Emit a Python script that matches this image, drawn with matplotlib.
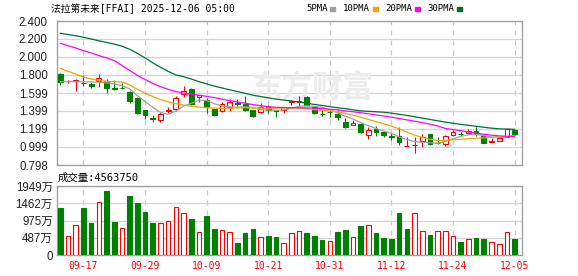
import matplotlib.pyplot as plt
from matplotlib.patches import Rectangle
import numpy as np

# trading days shown (MM-DD)
dates = ["09-12", "09-15", "09-16", "09-17", "09-18", "09-19", "09-22", "09-23", "09-24", "09-25",
         "09-26", "09-29", "09-30", "10-01", "10-02", "10-03", "10-06", "10-07", "10-08", "10-09",
         "10-10", "10-13", "10-14", "10-15", "10-16", "10-17", "10-20", "10-21", "10-22", "10-23",
         "10-24", "10-27", "10-28", "10-29", "10-30", "10-31", "11-03", "11-04", "11-05", "11-06",
         "11-07", "11-10", "11-11", "11-12", "11-13", "11-14", "11-17", "11-18", "11-19", "11-20",
         "11-21", "11-24", "11-25", "11-26", "11-28", "12-01", "12-02", "12-03", "12-04", "12-05"]

opens = [1.81, 1.728, 1.735, 1.715, 1.70, 1.733, 1.736, 1.65, 1.66, 1.615,
         1.54, 1.41, 1.32, 1.296, 1.40, 1.42, 1.585, 1.64, 1.56, 1.52,
         1.42, 1.40, 1.447, 1.49, 1.475, 1.41, 1.385, 1.447, 1.405, 1.405,
         1.495, 1.50, 1.558, 1.44, 1.365, 1.39, 1.365, 1.28, 1.245, 1.25,
         1.135, 1.195, 1.16, 1.125, 1.12, 1.005, 1.018, 1.07, 1.143, 1.045,
         1.03, 1.13, 1.145, 1.152, 1.176, 1.12, 1.055, 1.07, 1.113, 1.187]
closes = [1.725, 1.738, 1.745, 1.705, 1.68, 1.762, 1.66, 1.64, 1.655, 1.515,
          1.375, 1.35, 1.315, 1.362, 1.415, 1.547, 1.62, 1.475, 1.577, 1.44,
          1.35, 1.477, 1.50, 1.48, 1.41, 1.345, 1.44, 1.41, 1.40, 1.44,
          1.505, 1.51, 1.46, 1.375, 1.36, 1.385, 1.33, 1.225, 1.27, 1.16,
          1.19, 1.165, 1.13, 1.115, 1.058, 1.012, 1.025, 1.105, 1.03, 1.04,
          1.12, 1.17, 1.14, 1.176, 1.143, 1.046, 1.06, 1.10, 1.195, 1.14]
highs = [1.825, 1.745, 1.75, 1.80, 1.72, 1.807, 1.75, 1.745, 1.705, 1.62,
         1.555, 1.415, 1.355, 1.39, 1.44, 1.566, 1.677, 1.65, 1.577, 1.54,
         1.425, 1.50, 1.53, 1.53, 1.566, 1.415, 1.49, 1.466, 1.41, 1.445,
         1.52, 1.566, 1.565, 1.455, 1.41, 1.41, 1.41, 1.32, 1.30, 1.26,
         1.225, 1.23, 1.165, 1.15, 1.218, 1.11, 1.105, 1.14, 1.145, 1.105,
         1.132, 1.19, 1.16, 1.20, 1.225, 1.125, 1.095, 1.105, 1.20, 1.19]
lows = [1.69, 1.715, 1.625, 1.68, 1.66, 1.67, 1.596, 1.63, 1.645, 1.485,
        1.365, 1.31, 1.28, 1.273, 1.375, 1.40, 1.55, 1.465, 1.50, 1.38,
        1.345, 1.39, 1.40, 1.455, 1.40, 1.335, 1.38, 1.373, 1.335, 1.375,
        1.466, 1.455, 1.455, 1.36, 1.343, 1.335, 1.30, 1.21, 1.243, 1.15,
        1.085, 1.12, 1.115, 1.076, 1.02, 1.005, 0.935, 1.0, 1.02, 1.032,
        1.013, 1.12, 1.12, 1.143, 1.12, 1.04, 1.05, 1.06, 1.11, 1.135]

# volume in 万 shares
volume = [1337, 537, 847, 1337, 913, 1497, 1817, 942, 763, 1676,
          1478, 1224, 913, 913, 960, 1356, 1196, 1026, 650, 1111,
          744, 706, 650, 348, 631, 744, 508, 537, 508, 339,
          612, 668, 621, 537, 424, 395, 650, 706, 499, 819,
          838, 621, 480, 452, 1186, 734, 1177, 668, 565, 668,
          668, 527, 367, 443, 480, 452, 358, 311, 650, 456.375]

# moving averages
ma5 = [1.725, 1.725, 1.725, 1.725, 1.722, 1.72, 1.712, 1.70, 1.68, 1.645,
       1.57, 1.505, 1.44, 1.383, 1.363, 1.398, 1.452, 1.484, 1.52, 1.515,
       1.48, 1.455, 1.445, 1.44, 1.445, 1.435, 1.415, 1.41, 1.405, 1.41,
       1.43, 1.45, 1.455, 1.45, 1.44, 1.41, 1.38, 1.34, 1.31, 1.27,
       1.235, 1.205, 1.175, 1.15, 1.11, 1.08, 1.06, 1.05, 1.045, 1.04,
       1.06, 1.09, 1.115, 1.135, 1.14, 1.125, 1.11, 1.105, 1.11, 1.122]
ma10 = [1.874, 1.84, 1.81, 1.775, 1.755, 1.74, 1.728, 1.725, 1.722, 1.69,
        1.64, 1.598, 1.56, 1.528, 1.50, 1.48, 1.465, 1.452, 1.443, 1.435,
        1.43, 1.428, 1.43, 1.432, 1.435, 1.432, 1.43, 1.43, 1.43, 1.432,
        1.432, 1.43, 1.425, 1.415, 1.405, 1.40, 1.39, 1.372, 1.352, 1.33,
        1.305, 1.28, 1.258, 1.23, 1.20, 1.165, 1.13, 1.105, 1.085, 1.07,
        1.072, 1.078, 1.085, 1.09, 1.095, 1.10, 1.105, 1.11, 1.115, 1.125]
ma20 = [2.152, 2.125, 2.10, 2.07, 2.045, 2.015, 1.99, 1.96, 1.905, 1.85,
        1.795, 1.75, 1.705, 1.67, 1.64, 1.615, 1.598, 1.585, 1.575, 1.562,
        1.548, 1.53, 1.515, 1.50, 1.485, 1.47, 1.458, 1.448, 1.44, 1.437,
        1.435, 1.435, 1.433, 1.43, 1.425, 1.42, 1.412, 1.40, 1.39, 1.38,
        1.368, 1.355, 1.343, 1.33, 1.315, 1.30, 1.285, 1.27, 1.252, 1.232,
        1.205, 1.192, 1.18, 1.165, 1.152, 1.14, 1.13, 1.122, 1.117, 1.115]
ma30 = [2.263, 2.25, 2.235, 2.22, 2.20, 2.18, 2.162, 2.143, 2.12, 2.085,
        2.04, 1.99, 1.935, 1.885, 1.84, 1.80, 1.78, 1.755, 1.725, 1.70,
        1.675, 1.655, 1.635, 1.615, 1.595, 1.575, 1.56, 1.545, 1.532, 1.52,
        1.51, 1.498, 1.485, 1.472, 1.46, 1.448, 1.435, 1.425, 1.412, 1.40,
        1.395, 1.39, 1.385, 1.375, 1.362, 1.35, 1.335, 1.32, 1.305, 1.29,
        1.275, 1.262, 1.25, 1.24, 1.228, 1.218, 1.208, 1.20, 1.198, 1.195]

price_ticks = [0.798, 0.999, 1.199, 1.399, 1.599, 1.800, 2.000, 2.200, 2.400]
vol_ticks = [0, 487.25, 974.5, 1461.75, 1949]
vol_tick_labels = ["0", "487万", "975万", "1462万", "1949万"]

RED = "#ff0000"
GREEN = "#008000"
W, H = 578, 276


def fx(px):
    return px / W


def fy(py):
    return 1 - py / H


x = np.arange(len(dates))
date_ticks = list(range(3, len(dates), 8))

fig = plt.figure(figsize=(W / 100, H / 100), dpi=100)
ax = fig.add_axes([fx(56.5), fy(165), (522.3 - 56.5) / W, 144 / H])
axv = fig.add_axes([fx(56.5), fy(255), (522.3 - 56.5) / W, 69 / H])

for a in (ax, axv):
    a.set_xlim(-0.5, 60)
    for s in a.spines.values():
        s.set_color("#a0a0a0")
        s.set_linewidth(1)
    a.set_axisbelow(True)
    a.set_xticks(date_ticks)
    a.xaxis.grid(True, color="#c8c8c8", lw=0.9, ls=(0, (4, 4)))
    a.yaxis.grid(True, color="#d4d4d4", lw=0.9)
    a.tick_params(length=0)

# price panel
ax.set_ylim(price_ticks[0], price_ticks[-1])
ax.set_yticks(price_ticks)
ax.set_yticklabels(["%.3f" % v for v in price_ticks], family="Liberation Sans",
                   fontsize=8.3, color="#222222")
ax.tick_params(axis="y", pad=6.3)
ax.set_xticklabels([])

ax.text(0.55, 0.54, "东方财富", transform=ax.transAxes, ha="center", va="center",
        fontsize=22, color="#ececec", family="Noto Sans CJK SC", weight="bold", zorder=1)

for i in x:
    o, c, h, l = opens[i], closes[i], highs[i], lows[i]
    up = c >= o
    col = RED if up else GREEN
    ax.vlines(i, l, h, color=col, lw=0.8, zorder=2)
    ax.bar(i, max(abs(c - o), 0.002), bottom=min(o, c), width=0.62,
           facecolor="white" if up else GREEN, edgecolor=col, lw=0.8, zorder=3)

ax.plot(x, ma5, color="#a0a0a0", lw=0.9, zorder=4)
ax.plot(x, ma10, color="#f5a300", lw=0.9, zorder=4)
ax.plot(x, ma20, color="#ff00ff", lw=0.9, zorder=4)
ax.plot(x, ma30, color="#006f36", lw=0.9, zorder=4)

# volume panel
axv.set_ylim(0, vol_ticks[-1])
axv.set_yticks(vol_ticks)
axv.set_yticklabels(vol_tick_labels, family=["Liberation Sans", "Noto Sans CJK SC"],
                    fontsize=8.3, color="#222222")
axv.tick_params(axis="y", pad=2.6)
axv.set_xticklabels([dates[i] for i in date_ticks], family="DejaVu Sans Mono",
                    fontsize=7, color=RED)
axv.tick_params(axis="x", pad=4)

for i in x:
    prev = closes[i - 1] if i > 0 else opens[i]
    up = closes[i] >= prev
    col = RED if up else GREEN
    axv.bar(i, volume[i], width=0.6, facecolor="white" if up else GREEN,
            edgecolor=col, lw=0.8, zorder=3)

# header texts
mono_cjk = ["DejaVu Sans Mono", "Noto Sans CJK SC"]
fig.text(fx(50.7), fy(8.7), "法拉第未来[FFAI] 2025-12-06 05:00", family=mono_cjk,
         fontsize=7, va="center", ha="left", color="black")
fig.text(fx(58), fy(177.5), "成交量:4563750", family=mono_cjk,
         fontsize=7.5, va="center", ha="left", color="black")

legend = [("5PMA", "#a0a0a0", 306, 330), ("10PMA", "#f5a300", 343, 373),
          ("20PMA", "#ff00ff", 385, 415), ("30PMA", "#006f36", 427, 457)]
for name, col, tx, sx in legend:
    fig.text(fx(tx), fy(8.5), name, family="DejaVu Sans Mono", fontsize=6.5,
             va="center", ha="left", color="black")
    fig.patches.append(Rectangle((fx(sx), fy(10.5)), 5 / W, 4 / H, color=col,
                                 transform=fig.transFigure, figure=fig))

fig.savefig("out.png", dpi=100)
